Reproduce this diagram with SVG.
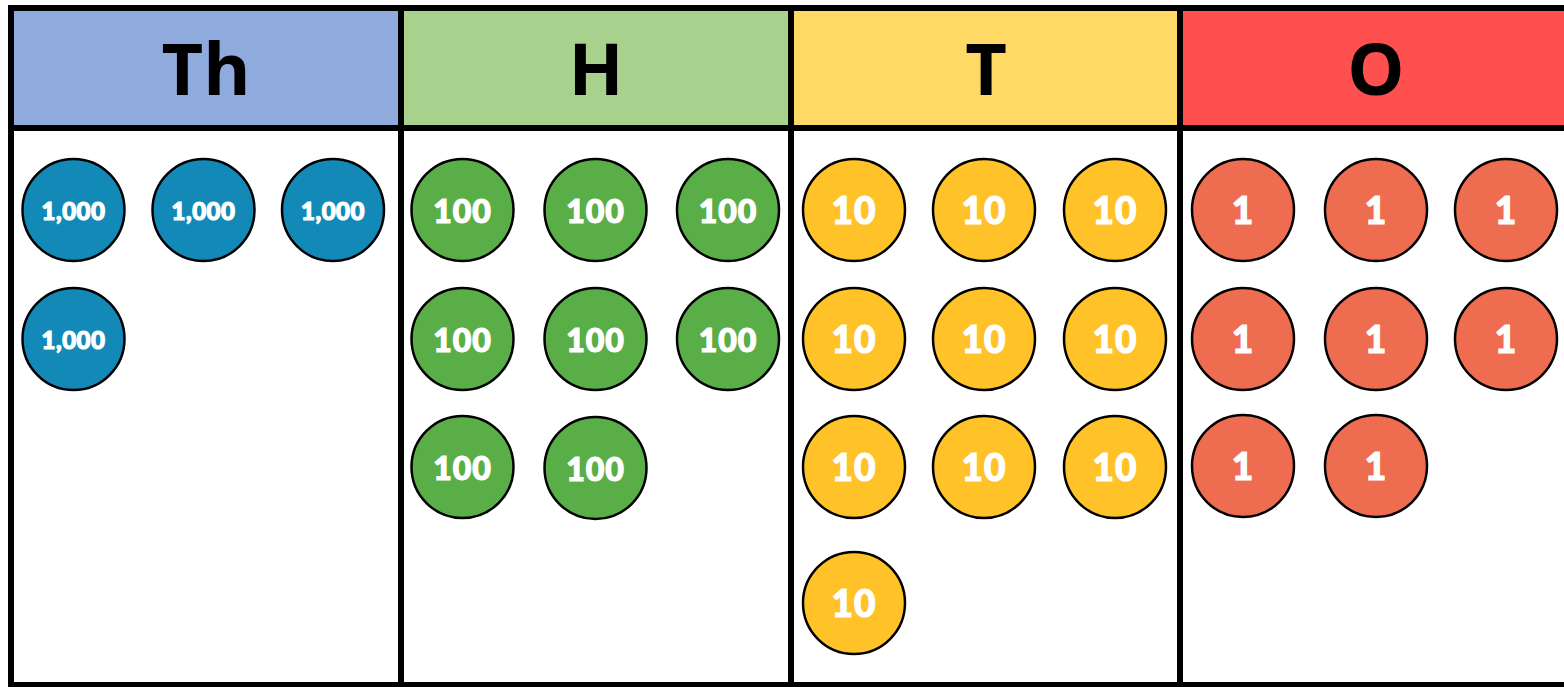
<svg xmlns="http://www.w3.org/2000/svg" width="1564" height="687" viewBox="0 0 1564 687">
<style>
.hd{font-family:"Open Sans","Liberation Sans",sans-serif;font-weight:700;font-size:72px;fill:#000;text-anchor:middle}
.c{stroke:#000;stroke-width:2.5}
.th{fill:#1289B7}.h{fill:#5AAE47}.t{fill:#FFC329}.o{fill:#EE6C4F}
.n{font-family:Lato,"Open Sans","Liberation Sans",sans-serif;font-weight:900;fill:#fff;stroke:#fff;stroke-width:1.2;text-anchor:middle}
.n4{font-size:24px;letter-spacing:0.5px}.n3{font-size:32px;letter-spacing:1px}.n2{font-size:37px;letter-spacing:1px}
.ln{stroke:#000;stroke-width:6;fill:none}
</style>
<rect width="1564" height="687" fill="#fff"/>
<g id="headers">
<rect x="11" y="8" width="390" height="120" fill="#8FAADC"/>
<rect x="401" y="8" width="390" height="120" fill="#A9D18E"/>
<rect x="791" y="8" width="389" height="120" fill="#FFD966"/>
<rect x="1180" y="8" width="390" height="120" fill="#FF5050"/>
<text class="hd" x="206" y="95">Th</text>
<text class="hd" x="596" y="95">H</text>
<text class="hd" x="986" y="95">T</text>
<text class="hd" x="1376" y="95">O</text>
</g>
<g id="grid">
<path class="ln" d="M8 8H1570M11 8V687M8 128H1570M401 8V687M791 8V687M1180 8V687M8 685H1570"/>
</g>
<g id="thousands">
<circle class="c th" cx="73.5" cy="210" r="51"/><text class="n n4" x="73.5" y="220">1,000</text>
<circle class="c th" cx="203.5" cy="210" r="51"/><text class="n n4" x="203.5" y="220">1,000</text>
<circle class="c th" cx="333" cy="210" r="51"/><text class="n n4" x="333" y="220">1,000</text>
<circle class="c th" cx="73.5" cy="339" r="51"/><text class="n n4" x="73.5" y="349">1,000</text>
</g>
<g id="hundreds">
<circle class="c h" cx="462.5" cy="210" r="51"/><text class="n n3" x="462.5" y="223">100</text>
<circle class="c h" cx="595.5" cy="210" r="51"/><text class="n n3" x="595.5" y="223">100</text>
<circle class="c h" cx="728" cy="210" r="51"/><text class="n n3" x="728" y="223">100</text>
<circle class="c h" cx="462.5" cy="339" r="51"/><text class="n n3" x="462.5" y="352">100</text>
<circle class="c h" cx="595.5" cy="339" r="51"/><text class="n n3" x="595.5" y="352">100</text>
<circle class="c h" cx="728" cy="339" r="51"/><text class="n n3" x="728" y="352">100</text>
<circle class="c h" cx="462.5" cy="467" r="51"/><text class="n n3" x="462.5" y="480">100</text>
<circle class="c h" cx="595.5" cy="468" r="51"/><text class="n n3" x="595.5" y="481">100</text>
</g>
<g id="tens">
<circle class="c t" cx="854" cy="210" r="51"/><text class="n n2" x="854" y="224">10</text>
<circle class="c t" cx="984" cy="210" r="51"/><text class="n n2" x="984" y="224">10</text>
<circle class="c t" cx="1115" cy="210" r="51"/><text class="n n2" x="1115" y="224">10</text>
<circle class="c t" cx="854" cy="339" r="51"/><text class="n n2" x="854" y="353">10</text>
<circle class="c t" cx="984" cy="339" r="51"/><text class="n n2" x="984" y="353">10</text>
<circle class="c t" cx="1115" cy="339" r="51"/><text class="n n2" x="1115" y="353">10</text>
<circle class="c t" cx="854" cy="467" r="51"/><text class="n n2" x="854" y="481">10</text>
<circle class="c t" cx="984" cy="467" r="51"/><text class="n n2" x="984" y="481">10</text>
<circle class="c t" cx="1115" cy="467" r="51"/><text class="n n2" x="1115" y="481">10</text>
<circle class="c t" cx="854" cy="603" r="51"/><text class="n n2" x="854" y="617">10</text>
</g>
<g id="ones">
<circle class="c o" cx="1243" cy="210" r="51"/><text class="n n2" x="1243" y="224">1</text>
<circle class="c o" cx="1376" cy="210" r="51"/><text class="n n2" x="1376" y="224">1</text>
<circle class="c o" cx="1506" cy="210" r="51"/><text class="n n2" x="1506" y="224">1</text>
<circle class="c o" cx="1243" cy="339" r="51"/><text class="n n2" x="1243" y="353">1</text>
<circle class="c o" cx="1376" cy="339" r="51"/><text class="n n2" x="1376" y="353">1</text>
<circle class="c o" cx="1506" cy="339" r="51"/><text class="n n2" x="1506" y="353">1</text>
<circle class="c o" cx="1243" cy="466" r="51"/><text class="n n2" x="1243" y="480">1</text>
<circle class="c o" cx="1376" cy="466" r="51"/><text class="n n2" x="1376" y="480">1</text>
</g>
</svg>
